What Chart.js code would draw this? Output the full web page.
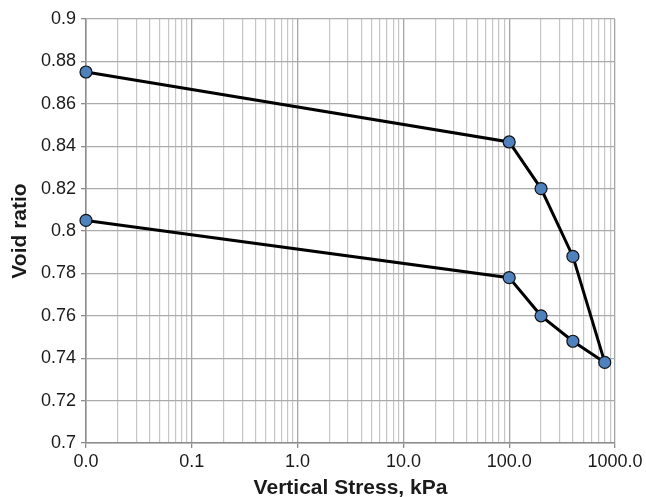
<!DOCTYPE html>
<html>
<head>
<meta charset="utf-8">
<script src="https://cdn.jsdelivr.net/npm/chart.js@4"></script>
<style>
  html, body { margin: 0; padding: 0; background: #fff; }
  #wrap { width: 646px; height: 497px; }
</style>
</head>
<body>
<div id="wrap"><canvas id="chart"></canvas></div>
<script>
// consolidation test: loading then unloading path
const stress = [0.01, 100, 200, 400, 800, 400, 200, 100, 0.01];
const voidRatio = [0.875, 0.842, 0.82, 0.788, 0.738, 0.748, 0.76, 0.778, 0.805];

const xDecades = [0.01, 0.1, 1, 10, 100, 1000];
const xTickLabels = ["0.0", "0.1", "1.0", "10.0", "100.0", "1000.0"];

const font = "'Liberation Sans', Arial, Helvetica, sans-serif";

function isDecade(v) {
  const e = Math.log10(v);
  return Math.abs(e - Math.round(e)) < 1e-6;
}

// 1..9 x 10^n grid values between the first and last decade
const xGrid = [];
for (let d = 0; d < xDecades.length - 1; d++) {
  for (let m = 1; m < 10; m++) xGrid.push(xDecades[d] * m);
}
xGrid.push(xDecades[xDecades.length - 1]);

const ctx = document.getElementById("chart").getContext("2d");
new Chart(ctx, {
  type: "scatter",
  data: {
    datasets: [{
      data: stress.map((s, i) => ({ x: s, y: voidRatio[i] })),
      showLine: true,
      clip: false,
      borderColor: "#000",
      borderWidth: 3,
      pointRadius: 6,
      pointBackgroundColor: "#4f81bd",
      pointBorderColor: "#111",
      pointBorderWidth: 1.2
    }]
  },
  options: {
    responsive: true,
    maintainAspectRatio: false,
    animation: false,
    layout: { padding: { left: 0, top: 19, right: 31, bottom: 0 } },
    plugins: { legend: { display: false }, tooltip: { enabled: false } },
    scales: {
      x: {
        type: "logarithmic",
        min: 0.01,
        max: 1000,
        afterBuildTicks: (scale) => { scale.ticks = xGrid.map(v => ({ value: v })); },
        afterFit: (scale) => { scale.height = 54; },
        border: { color: "#8c8c8c", width: 1.5 },
        grid: {
          color: (c) => isDecade(c.tick.value) ? "#a6a6a6" : "#c6c6c6",
          lineWidth: (c) => isDecade(c.tick.value) ? 1.3 : 1.2,
          tickColor: (c) => isDecade(c.tick.value) ? "#8c8c8c" : "rgba(0,0,0,0)",
          tickLength: 5
        },
        ticks: {
          autoSkip: false,
          maxRotation: 0,
          padding: 3,
          color: "#1a1a1a",
          font: { family: font, size: 18 },
          callback: (v) => {
            const i = xDecades.findIndex(d => Math.abs(d - v) < d * 1e-6);
            return i >= 0 ? xTickLabels[i] : "";
          }
        },
        title: {
          display: true,
          text: "Vertical Stress, kPa",
          color: "#1a1a1a",
          font: { family: font, size: 21, weight: "bold", lineHeight: 1 },
          padding: { top: 0, bottom: -2 }
        }
      },
      y: {
        min: 0.7,
        max: 0.9,
        afterFit: (scale) => { scale.width = 86; },
        border: { color: "#8c8c8c", width: 1.5 },
        grid: { color: "#ababab", lineWidth: 1.3, tickColor: "#8c8c8c", tickLength: 5 },
        ticks: {
          stepSize: 0.02,
          padding: 5,
          color: "#1a1a1a",
          font: { family: font, size: 18 },
          callback: (v) => String(Number(v.toFixed(2)))
        },
        title: {
          display: true,
          text: "Void ratio",
          color: "#1a1a1a",
          font: { family: font, size: 21, weight: "bold", lineHeight: 1 },
          padding: { top: 10, bottom: 0 }
        }
      }
    }
  }
});
</script>
</body>
</html>
